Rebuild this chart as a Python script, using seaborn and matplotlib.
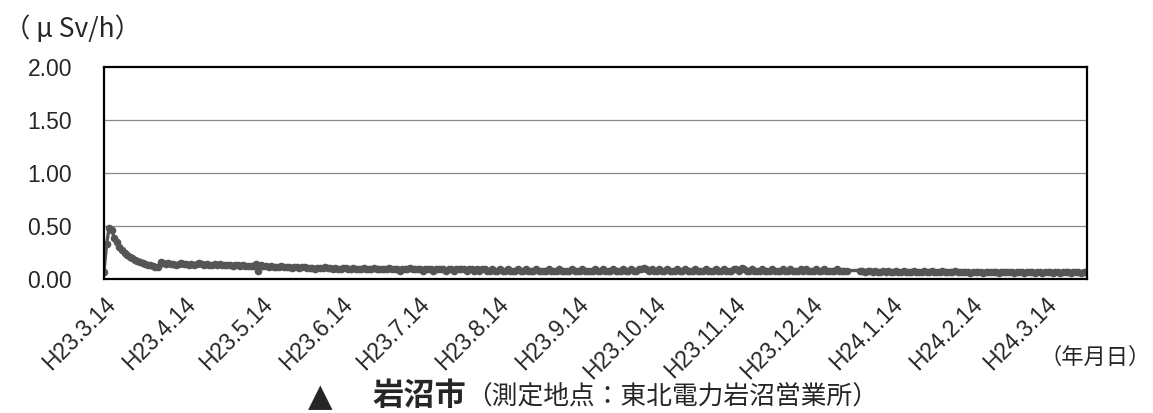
import numpy as np
import pandas as pd
import matplotlib
matplotlib.use("Agg")
import matplotlib.pyplot as plt
import seaborn as sns

# daily dose rate (uSv/h), one list per month; None = no measurement
mar11 = [0.07, 0.33, 0.48, 0.46, 0.39, 0.35, 0.30, 0.27, 0.25, 0.23, 0.21, 0.20, 0.18, 0.17, 0.16, 0.15, 0.14, 0.13]  # from 3/14
apr11 = [0.13, 0.12, 0.11, 0.11, 0.16, 0.15, 0.14, 0.15, 0.14, 0.14, 0.13, 0.14, 0.15, 0.14, 0.14,
         0.13, 0.14, 0.13, 0.14, 0.15, 0.14, 0.13, 0.14, 0.13, 0.13, 0.14, 0.13, 0.14, 0.13, 0.13]
may11 = [0.13, 0.13, 0.12, 0.13, 0.13, 0.12, 0.13, 0.12, 0.12, 0.12, 0.12, 0.14, 0.08, 0.13, 0.12, 0.12,
         0.11, 0.12, 0.11, 0.11, 0.11, 0.12, 0.11, 0.11, 0.11, 0.10, 0.11, 0.11, 0.10, 0.11, 0.11]
jun11 = [0.10, 0.10, 0.10, 0.09, 0.10, 0.10, 0.10, 0.11, 0.10, 0.10, 0.09, 0.10, 0.09, 0.09, 0.10,
         0.10, 0.09, 0.09, 0.10, 0.09, 0.09, 0.09, 0.10, 0.09, 0.09, 0.09, 0.10, 0.09, 0.09, 0.09]
jul11 = [0.09, 0.09, 0.10, 0.09, 0.09, 0.09, 0.08, 0.09, 0.09, 0.09, 0.10, 0.09, 0.09, 0.09, 0.09, 0.08,
         0.09, 0.09, 0.09, 0.08, 0.09, 0.09, 0.09, 0.09, 0.08, 0.09, 0.09, 0.08, 0.09, 0.09, 0.09]
aug11 = [0.09, 0.08, 0.09, 0.09, 0.08, 0.09, 0.08, 0.09, 0.09, 0.08, 0.08, 0.09, 0.08, 0.08, 0.09, 0.08,
         0.08, 0.09, 0.08, 0.08, 0.08, 0.09, 0.08, 0.08, 0.09, 0.08, 0.08, 0.08, 0.09, 0.08, 0.08]
sep11 = [0.08, 0.08, 0.09, 0.08, 0.08, 0.08, 0.09, 0.08, 0.08, 0.08, 0.08, 0.09, 0.08, 0.08, 0.08,
         0.09, 0.08, 0.08, 0.08, 0.08, 0.09, 0.08, 0.08, 0.09, 0.08, 0.08, 0.08, 0.09, 0.08, 0.08]
oct11 = [0.08, 0.09, 0.08, 0.08, 0.09, 0.08, 0.08, 0.09, 0.09, 0.10, 0.09, 0.08, 0.09, 0.08, 0.08, 0.09,
         0.08, 0.08, 0.09, 0.08, 0.08, 0.08, 0.09, 0.08, 0.08, 0.09, 0.08, 0.08, 0.08, 0.09, 0.08]
nov11 = [0.08, 0.08, 0.09, 0.08, 0.08, 0.08, 0.09, 0.08, 0.08, 0.09, 0.08, 0.08, 0.08, 0.09, 0.09,
         0.08, 0.10, 0.09, 0.08, 0.08, 0.09, 0.08, 0.08, 0.08, 0.09, 0.08, 0.08, 0.08, 0.09, 0.08]
dec11 = [0.08, 0.08, 0.09, 0.08, 0.08, 0.09, 0.08, 0.08, 0.08, 0.09, 0.08, 0.09, 0.08, 0.08, 0.08, 0.09,
         0.08, 0.08, 0.09, 0.08, 0.08, 0.08, 0.08, 0.09, 0.08, 0.08, 0.08, 0.08, None, None, None]
jan12 = [None, 0.08, 0.08, 0.07, 0.08, 0.08, 0.07, 0.08, 0.07, 0.07, 0.08, 0.07, 0.08, 0.07, 0.07, 0.08,
         0.07, 0.07, 0.08, 0.07, 0.07, 0.07, 0.08, 0.07, 0.07, 0.07, 0.08, 0.07, 0.07, 0.08, 0.07]
feb12 = [0.07, 0.07, 0.08, 0.07, 0.07, 0.07, 0.07, 0.08, 0.07, 0.07, 0.07, 0.07, 0.07, 0.06, 0.07,
         0.07, 0.07, 0.07, 0.06, 0.07, 0.07, 0.07, 0.07, 0.07, 0.06, 0.07, 0.07, 0.07, 0.07]
mar12 = [0.07, 0.06, 0.07, 0.07, 0.07, 0.06, 0.07, 0.07, 0.07, 0.06, 0.07, 0.07, 0.06, 0.07, 0.07,
         0.07, 0.06, 0.07, 0.07, 0.06, 0.07, 0.07, 0.07, 0.06, 0.07, 0.07, 0.07, 0.06, 0.07, 0.07]  # to 3/30

tick_dates = ["2011-03-14", "2011-04-14", "2011-05-14", "2011-06-14", "2011-07-14", "2011-08-14",
              "2011-09-14", "2011-10-14", "2011-11-14", "2011-12-14", "2012-01-14", "2012-02-14",
              "2012-03-14"]
tick_labels = ["H23.3.14", "H23.4.14", "H23.5.14", "H23.6.14", "H23.7.14", "H23.8.14", "H23.9.14",
               "H23.10.14", "H23.11.14", "H23.12.14", "H24.1.14", "H24.2.14", "H24.3.14"]
y_ticks = [0.0, 0.5, 1.0, 1.5, 2.0]

values = mar11 + apr11 + may11 + jun11 + jul11 + aug11 + sep11 + oct11 + nov11 + dec11 + jan12 + feb12 + mar12
dates = pd.date_range("2011-03-14", periods=len(values), freq="D")
df = pd.DataFrame({"date": dates, "dose": pd.to_numeric(pd.Series(values), errors="coerce")}).dropna()

sns.set_style("white")
plt.rcParams["font.family"] = ["Liberation Sans", "Noto Sans CJK JP", "DejaVu Sans"]
cjk = ["Noto Sans CJK JP", "DejaVu Sans"]

fig = plt.figure(figsize=(11.53, 4.13), dpi=100)
ax = fig.add_axes([104 / 1153, 1 - 279 / 413, (1087 - 104) / 1153, (279 - 67) / 413])

sns.lineplot(data=df, x="date", y="dose", ax=ax, color="#555555", linewidth=2.4,
             marker="o", markersize=5.5, markeredgewidth=0, markeredgecolor="#555555")

ax.set_xlim(pd.Timestamp("2011-03-14"), pd.Timestamp("2012-03-30 08:00"))
ax.set_ylim(0, 2.0)
ax.set_yticks(y_ticks)
ax.set_yticklabels([f"{v:.2f}" for v in y_ticks], fontsize=16.5)
ax.set_xticks(pd.to_datetime(tick_dates))
ax.set_xticklabels(tick_labels, fontsize=16.5, rotation=45, ha="right", rotation_mode="anchor")
ax.tick_params(axis="x", direction="in", length=6, width=1.3, color="black", pad=10)
ax.tick_params(axis="y", length=0, pad=23)
ax.set_xlabel("")
ax.set_ylabel("")

for v in y_ticks[1:-1]:
    ax.axhline(v, color="#888888", linewidth=0.9, zorder=0)
for s in ax.spines.values():
    s.set_visible(True)
    s.set_color("black")
    s.set_linewidth(1.6)

fig.text(4 / 1153, 1 - 29 / 413, "（ μ Sv/h）", fontsize=19, va="center", ha="left", family=cjk)
fig.text(1151 / 1153, 1 - 357 / 413, "（年月日）", fontsize=16, va="center", ha="right", family=cjk)
fig.text(320 / 1153, 1 - 406 / 413, "▲", fontsize=23, va="baseline", ha="center", family=["DejaVu Sans"])
fig.text(372 / 1153, 1 - 396 / 413, "岩沼市", fontsize=22.5, fontweight="bold", va="center", ha="left",
         family=cjk)
fig.text(466 / 1153, 1 - 398 / 413, "（測定地点：東北電力岩沼営業所）", fontsize=18.5, va="center", ha="left",
         family=cjk)

fig.savefig("out.png", dpi=100)
